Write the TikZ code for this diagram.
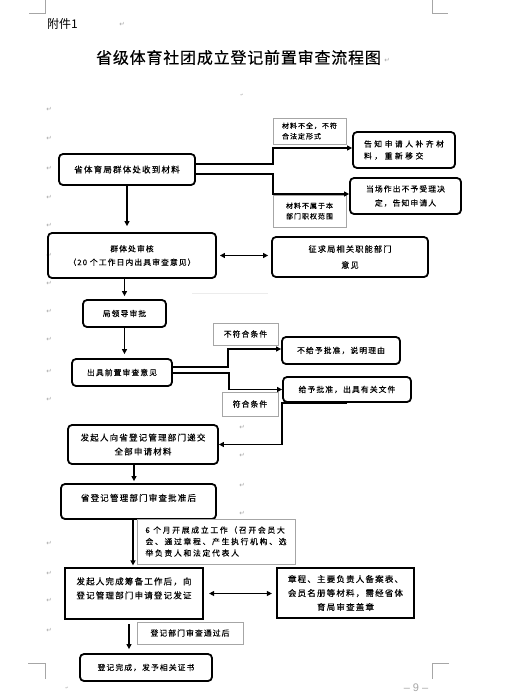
\documentclass[tikz,border=0pt]{standalone}
\usepackage{fontspec}
\setmainfont{Noto Sans CJK SC}
\newfontfamily\cjkbig[LetterSpace=14,FakeBold=0.2]{Noto Sans CJK SC}
\newfontfamily\cjkwide[LetterSpace=32,FakeBold=0.2]{Noto Sans CJK SC}
\newfontfamily\cjkmid[LetterSpace=22,FakeBold=0.2]{Noto Sans CJK SC}
\newfontfamily\cjktitle[LetterSpace=5,FakeBold=0.3]{Noto Sans CJK SC}
\newfontfamily\symfont{DejaVu Sans}
\newfontfamily\pgnum{Liberation Sans}
\usetikzlibrary{arrows.meta,calc}
\tikzset{
 box/.style={draw, line width=1.8pt, rounded corners=4pt, inner sep=0pt, align=center, text=black},
 sqbox/.style={draw, line width=2.2pt, inner sep=0pt, align=center, text=black},
 lbl/.style={draw=gray!70, line width=0.8pt, inner sep=0pt, align=left, text=black},
 big/.style={font=\cjkbig\fontsize{8.5}{14}\selectfont},
 mid/.style={font=\cjkbig\fontsize{7.8}{14}\selectfont},
 sml/.style={font=\cjkbig\fontsize{7}{10.5}\selectfont},
 arr/.style={line width=1.8pt, -{Triangle[length=5pt,width=5pt]}},
 darr/.style={line width=1.8pt, {Triangle[length=5pt,width=5pt]}-{Triangle[length=5pt,width=5pt]}},
 pmark/.style={font=\symfont\fontsize{6.5}{7}\selectfont, text=gray!70, inner sep=0pt},
 corner/.style={draw=gray!70, line width=0.7pt},
}
\begin{document}
\begin{tikzpicture}[x=1pt,y=-1pt]
\useasboundingbox[fill=white] (0,0) rectangle (513,696);
% page corner marks
\draw[corner] (45,0) -- (45,13) -- (29,13);
\draw[corner] (432,0) -- (432,13) -- (448,13);
\draw[corner] (28,663) -- (45,663) -- (45,679);
\draw[corner] (449,663) -- (432,663) -- (432,679);
% header texts
\node[anchor=west,font=\fontsize{12}{12}\selectfont,inner sep=0pt] (att) at (47,24) {附件1};
\node[font=\cjktitle\fontsize{16}{16}\selectfont,inner sep=0pt] (title) at (238.5,57.5) {省级体育社团成立登记前置审查流程图};
% paragraph marks
\foreach \y [count=\i] in {109,138,168,197,225,255,283,311,339,371,399,543,573,600,630}
  \node[pmark] (pl\i) at (49,\y) {↵};
\foreach \y [count=\i] in {427,455,485,513}
  \node[pmark] (pm\i) at (242,\y) {↵};
\node[pmark] (pt1) at (122,24) {↵};
\node[pmark] (pt2) at (387,60) {↵};
\node[pmark,font=\symfont\fontsize{4}{4}\selectfont] (pt3) at (242,95) {↵};
\node[pmark,font=\symfont\fontsize{4}{4}\selectfont] (pt4) at (67,688) {↵};
% page number
\node[font=\pgnum\fontsize{11}{11}\selectfont, text=gray!70, inner sep=0pt] (pg) at (416,688) {– 9 –};
% faint line
\draw[gray!15, line width=0.8pt] (192,293) -- (268,293);

% nodes
\node[box,big,minimum width=136pt,minimum height=31pt] (A) at (127,169.5) {省体育局群体处收到材料};
\node[lbl,sml,minimum width=73pt,minimum height=26pt] (L1) at (309.5,131) {材料不全，不符\\合法定形式};
\node[box,font=\cjkwide\fontsize{7.8}{12}\selectfont,align=left,minimum width=102pt,minimum height=36pt] (N1) at (404,150) {告知申请人补齐材\\料，重新移交};
\node[box,mid,minimum width=111pt,minimum height=36pt] (N2) at (405.5,196) {当场作出不予受理决\\定，告知申请人};
\node[lbl,sml,minimum width=73pt,minimum height=32pt] (L2) at (309.5,211) {材料不属于本\\部门职权范围};
\node[box,font=\cjkbig\fontsize{7.8}{13.5}\selectfont,minimum width=168pt,minimum height=45pt] (B) at (132,255.5) {群体处审核\\（20 个工作日内出具审查意见）};
\node[box,font=\cjkbig\fontsize{8.2}{16}\selectfont,minimum width=156pt,minimum height=40pt] (C) at (350,257) {征求局相关职能部门\\意见};
\node[box,mid,minimum width=83pt,minimum height=27pt] (D) at (124.5,313.5) {局领导审批};
\node[box,mid,minimum width=100pt,minimum height=27pt] (E) at (122,372.5) {出具前置审查意见};
\node[lbl,mid,minimum width=65pt,minimum height=22pt] (L3) at (245.5,334) {不符合条件};
\node[box,mid,minimum width=118pt,minimum height=27pt] (N3) at (341,350.5) {不给予批准，说明理由};
\node[box,mid,minimum width=128pt,minimum height=25pt] (N4) at (347,389.5) {给予批准，出具有关文件};
\node[lbl,mid,minimum width=56pt,minimum height=24pt] (L4) at (250,404) {符合条件};
\node[box,big,minimum width=150pt,minimum height=39pt] (F) at (143,444.5) {发起人向省登记管理部门递交\\全部申请材料};
\node[box,big,minimum width=155pt,minimum height=35pt,text depth=8pt] (G) at (138.5,501.5) {省登记管理部门审查批准后};
\node[lbl,font=\cjkmid\fontsize{7.8}{11.5}\selectfont,minimum width=158pt,minimum height=45pt] (L5) at (216,541.5) {6 个月开展成立工作（召开会员大\\会、通过章程、产生执行机构、选\\举负责人和法定代表人};
\node[sqbox,big,minimum width=138pt,minimum height=51pt,text depth=11pt] (H) at (134,593.5) {发起人完成筹备工作后，向\\登记管理部门申请登记发证};
\node[sqbox,big,minimum width=137pt,minimum height=50pt] (I) at (345.5,593) {章程、主要负责人备案表、\\会员名册等材料，需经省体\\育局审查盖章};
\node[lbl,mid,minimum width=106pt,minimum height=22pt] (L6) at (190,633) {登记部门审查通过后};
\node[box,mid,minimum width=132pt,minimum height=27pt] (J) at (146,667.5) {登记完成，发予相关证书};

% connectors
\draw[arr] ($(A.east)+(0,-5.5)$) -- ++(77,0) |- ($(N1.west)+(0,-2)$);
\draw[arr] ($(A.east)+(0,4.5)$) -- ++(77,0) |- ($(N2.west)+(0,-2)$);
\draw[arr, shorten >=6pt] (A.south) -- (A.south |- B.north);
\draw[darr, shorten <=3pt, shorten >=3pt] (B.east) -- (B.east -| C.west);
\draw[arr, shorten >=3pt] (B.south -| D.north) -- (D.north);
\draw[arr, shorten >=4pt] (D.south) -- (D.south |- E.north);
\draw[arr] ($(E.east)+(0,-5.5)$) -- ++(55,0) |- ($(N3.west)+(0,-1.5)$);
\draw[arr] ($(E.east)+(0,0.5)$) -- ++(56,0) |- (N4.west);
\draw[arr] (N4.south) -- (N4.south west) -- (N4.south west |- F.east) -- (F.east);
\draw[arr, shorten >=2pt] ($(F.south)+(-9,0)$) -- ($(G.north)+(-4.5,0)$);
\draw[arr, shorten >=1.5pt] ($(G.south)+(-5.5,0)$) -- ($(H.north)+(-1,0)$);
\draw[darr, shorten <=5pt, shorten >=4pt] (H.east) -- (H.east -| I.west);
\draw[arr, shorten <=4pt, shorten >=4pt] ($(H.south)+(-5,0)$) -- ($(J.north)+(-17,0)$);
\end{tikzpicture}
\end{document}
